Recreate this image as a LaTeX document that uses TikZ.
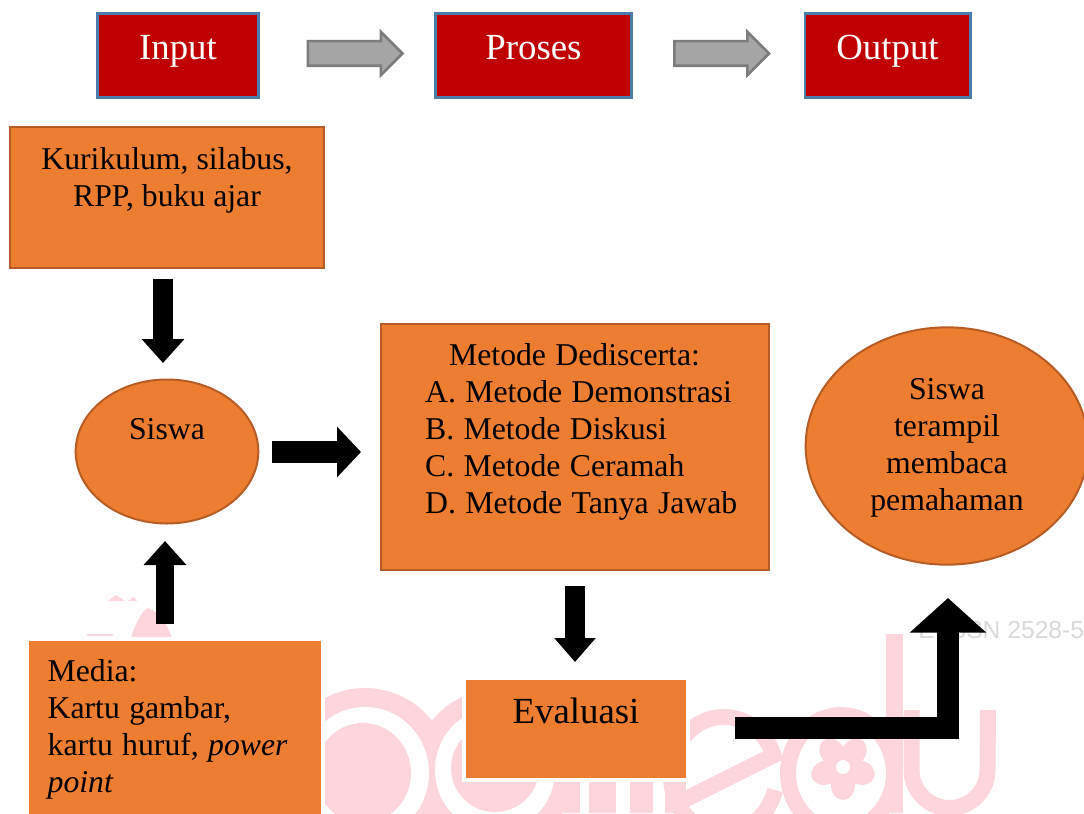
\documentclass[tikz,border=0pt]{standalone}
\usepackage{fontspec}
\setmainfont{Liberation Serif}
\newfontfamily\wmfont{Liberation Sans}
\usepackage{xcolor}
\usetikzlibrary{shapes.arrows, shapes.geometric, positioning, calc, arrows.meta}
\definecolor{boxred}{RGB}{192, 0, 0}
\definecolor{boxblue}{RGB}{74, 126, 170}
\definecolor{boxorange}{RGB}{237, 125, 49}
\definecolor{edgeorange}{RGB}{183, 92, 36}
\definecolor{arrowgray}{RGB}{165, 165, 165}
\definecolor{edgegray}{RGB}{124, 124, 124}
\definecolor{wmpink}{RGB}{252, 214, 220}
\definecolor{wmgray}{RGB}{217, 217, 217}
\newcommand{\txtsmall}{\fontsize{23.8pt}{27.7pt}\selectfont\frenchspacing}
\newcommand{\txtbig}{\fontsize{27.6pt}{27.7pt}\selectfont\frenchspacing}
\tikzset{
    headbox/.style={
        draw=boxblue, line width=2pt, fill=boxred, text=white, font=\txtbig, inner sep=0pt
    },
    stepbox/.style={
        draw=edgeorange, line width=1.5pt, fill=boxorange, text=black, font=\txtsmall, align=center, inner sep=0pt, outer sep=0pt
    },
    stepoval/.style={
        stepbox, ellipse
    },
    grayarrow/.style={
        single arrow, draw=edgegray, line width=2pt, fill=arrowgray, inner sep=0pt,
        text height=16.5pt, text depth=0pt, text width=0pt,
        minimum height=71pt, single arrow head extend=7pt, single arrow tip angle=90
    },
    blockarrow/.style 2 args={
        line width=#1, -{Triangle[length=18pt,width=#2]}
    },
    wmline/.style={
        draw=wmpink, line width=12pt
    }
}
\begin{document}
\begin{tikzpicture}[x=0.75pt, y=-0.75pt]
    \useasboundingbox (0,0) rectangle (1084,813);
    \clip (0,0) rectangle (1084,813);

    % --- watermark ---
    \fill[wmpink] (365,773) ellipse (85 and 85);
    \fill[wmpink] (495,770) ellipse (80 and 80);
    \fill[white] (365,773) ellipse (64 and 66);
    \fill[white] (495,770) ellipse (60 and 62);
    \fill[wmpink] (363,773) ellipse (48 and 50);
    \fill[wmpink] (495,768) ellipse (44 and 44);
    \fill[wmpink] (557,760) rectangle (580,813);
    \fill[wmpink] (589,760) rectangle (616,813);
    \fill[wmpink] (630,760) rectangle (653,813);
    \fill[wmpink] (665,760) rectangle (686,813);
    \draw[wmline] (775,790) arc (15:340:53 and 58) -- (680,802);
    \draw[wmline] (841,773) ellipse (53 and 58);
    \fill[wmpink] (886,634) rectangle (903,813);
    \draw[wmline] (911.5,710) -- (911.5,770) arc (180:0:38 and 38) -- (988,710);
    \foreach \petal in {-90,-18,54,126,198}
        \fill[wmpink, rotate around={\petal:(843,767)}] (861,767) ellipse (15 and 12);
    \fill[white] (843,767) circle (7);
    \fill[wmpink] (130,640) .. controls (135,625) and (142,610) .. (148,608) .. controls (160,612) and (170,628) .. (172,640) -- cycle;
    \fill[wmpink] (108,601) -- (116,595) -- (125,601) -- cycle;
    \fill[wmpink] (128,601) -- (134,597) -- (137,601) -- cycle;
    \fill[wmpink] (87,634) rectangle (113,636);
    \node[text=wmgray, anchor=west, inner sep=0pt, font=\wmfont\fontsize{18.5pt}{22pt}\selectfont] (issn) at (918,630) {E-ISSN 2528-5};

    % --- header ---
    \node[headbox, minimum width=121pt, minimum height=63pt] (input) at (178,55.5) {\raisebox{12pt}{Input}};
    \node[headbox, minimum width=147pt, minimum height=63pt] (proses) at (533.5,55.5) {\raisebox{12pt}{Proses}};
    \node[headbox, minimum width=124pt, minimum height=63pt] (output) at (887.5,55.5) {\raisebox{12pt}{Output}};
    \node[grayarrow] (arrowin) at (349,53.5) {};
    \node[grayarrow] (arrowout) at (715.5,53.5) {};

    % --- boxes ---
    \node[stepbox, minimum width=235pt, minimum height=105pt] (kurikulum) at (167,197.5) {Kurikulum, silabus,\\RPP, buku ajar\\[3pt]~};
    \node[stepoval, minimum width=137pt, minimum height=108pt] (siswa) at (167,451.5) {Siswa\\[6pt]~};
    \node[stepbox, minimum width=291pt, minimum height=184pt, align=left, text width=224pt] (metode) at (574.5,447) {\spaceskip=7pt \makebox[224pt]{Metode Dediscerta:}\\\leavevmode\rlap{A. Metode Demonstrasi}\\B. Metode Diskusi\\C. Metode Ceramah\\\leavevmode\rlap{D. Metode Tanya Jawab}\\~};
    \node[stepoval, minimum width=212pt, minimum height=178pt] (hasil) at (947,446) {\rule{0pt}{19pt}Siswa\\terampil\\membaca\\pemahaman};
    \node[stepbox, draw=white, line width=3pt, anchor=north west, minimum width=222pt, minimum height=135pt, text width=191pt, align=left] (media) at (27,639) {\spaceskip=7pt Media:\\Kartu gambar,\\kartu huruf, \textit{power}\\\textit{point}};
    \node[stepbox, draw=white, line width=3pt, font=\txtbig, minimum width=168pt, minimum height=77pt] (evaluasi) at (576,729) {Evaluasi\\~};

    % --- arrows ---
    \coordinate (a1s) at (163,279);
    \coordinate (a1e) at (163,363);
    \coordinate (a2s) at (272,452);
    \coordinate (a2e) at (361,452);
    \coordinate (a3s) at (165,624);
    \coordinate (a3e) at (165,541);
    \coordinate (a4s) at (575,586);
    \coordinate (a4e) at (575,662);
    \coordinate (a5s) at (735,728);
    \coordinate (a5c) at (948,728);
    \coordinate (a5e) at (948,598);
    \draw[blockarrow={15.5pt}{31pt}] (a1s) -- (a1e);
    \draw[blockarrow={17pt}{37pt}] (a2s) -- (a2e);
    \draw[blockarrow={13.5pt}{31pt}] (a3s) -- (a3e);
    \draw[blockarrow={15pt}{30pt}] (a4s) -- (a4e);
    \draw[line width=16.5pt, -{Triangle[length=26pt,width=56pt]}] (a5s) -- (a5c) -- (a5e);
\end{tikzpicture}
\end{document}
